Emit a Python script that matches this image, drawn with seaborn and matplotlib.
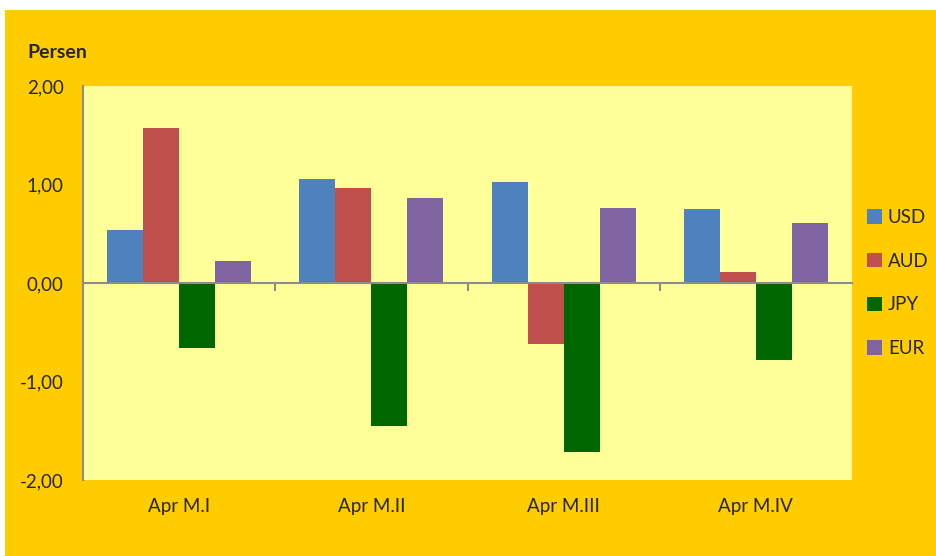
import pandas as pd
import matplotlib.pyplot as plt
import matplotlib.ticker as mticker
from matplotlib.patches import Rectangle
import seaborn as sns

# data
minggu = ["Apr M.I", "Apr M.II", "Apr M.III", "Apr M.IV"]
usd = [0.54, 1.06, 1.03, 0.75]
aud = [1.57, 0.96, -0.62, 0.11]
jpy = [-0.66, -1.45, -1.72, -0.78]
eur = [0.22, 0.86, 0.76, 0.61]
mata_uang = ["USD", "AUD", "JPY", "EUR"]
warna = ["#4F81BD", "#C0504D", "#006600", "#8064A2"]

df = pd.DataFrame({"minggu": minggu, "USD": usd, "AUD": aud, "JPY": jpy, "EUR": eur})
df = df.melt(id_vars="minggu", var_name="mata_uang", value_name="nilai")

sns.set_style("white")
plt.rcParams["font.family"] = ["Lato", "DejaVu Sans"]

abu = "#8C8C8C"

fig = plt.figure(figsize=(9.36, 5.56), dpi=100, facecolor="white")
# latar oranye (ada sedikit margin putih di atas dan kiri)
fig.add_artist(Rectangle((5 / 936, 0), 1 - 5 / 936, 1 - 10 / 556,
                         transform=fig.transFigure, facecolor="#FFCC00",
                         edgecolor="none", zorder=-10))
ax = fig.add_axes([83 / 936, 76 / 556, 769 / 936, 394 / 556])
ax.set_facecolor("#FFFF99")

sns.barplot(data=df, x="minggu", y="nilai", hue="mata_uang", hue_order=mata_uang,
            palette=dict(zip(mata_uang, warna)), width=0.75, gap=0, saturation=1,
            linewidth=0, ax=ax, zorder=2)

ax.set_ylim(-2, 2)
ax.set_xlim(-0.5, 3.5)
ax.set_yticks([-2, -1, 0, 1, 2])
ax.yaxis.set_major_formatter(mticker.FuncFormatter(lambda v, p: f"{v:.2f}".replace(".", ",")))
ax.tick_params(axis="y", length=0, pad=14, labelsize=13.5)
ax.tick_params(axis="x", length=0, pad=13, labelsize=13.5)
ax.set_xlabel("")
ax.set_ylabel("")

for s in ["top", "right", "bottom"]:
    ax.spines[s].set_visible(False)
ax.spines["left"].set_color(abu)
ax.spines["left"].set_linewidth(1.5)

# garis nol dengan tanda pemisah kategori (tanda menghadap ke bawah)
sumbu0 = ax.secondary_xaxis(0.5)
sumbu0.set_zorder(3)
sumbu0.xaxis.set_ticks_position("bottom")
sumbu0.set_xticks([0.5, 1.5, 2.5])
sumbu0.set_xticklabels([])
sumbu0.tick_params(length=6, width=1.5, color=abu, direction="out")
for s in sumbu0.spines.values():
    s.set_color(abu)
    s.set_linewidth(1.5)

ax.legend(loc="center left", bbox_to_anchor=(1.01, 0.5), frameon=False,
          fontsize=13.5, labelspacing=1.42, handlelength=0.8, handleheight=0.8,
          handletextpad=0.3, borderaxespad=0)

fig.text(27 / 936, 1 - 53 / 556, "Persen", fontsize=14, fontweight="bold",
         ha="left", va="center")

fig.savefig("out.png", dpi=100, facecolor=fig.get_facecolor())
